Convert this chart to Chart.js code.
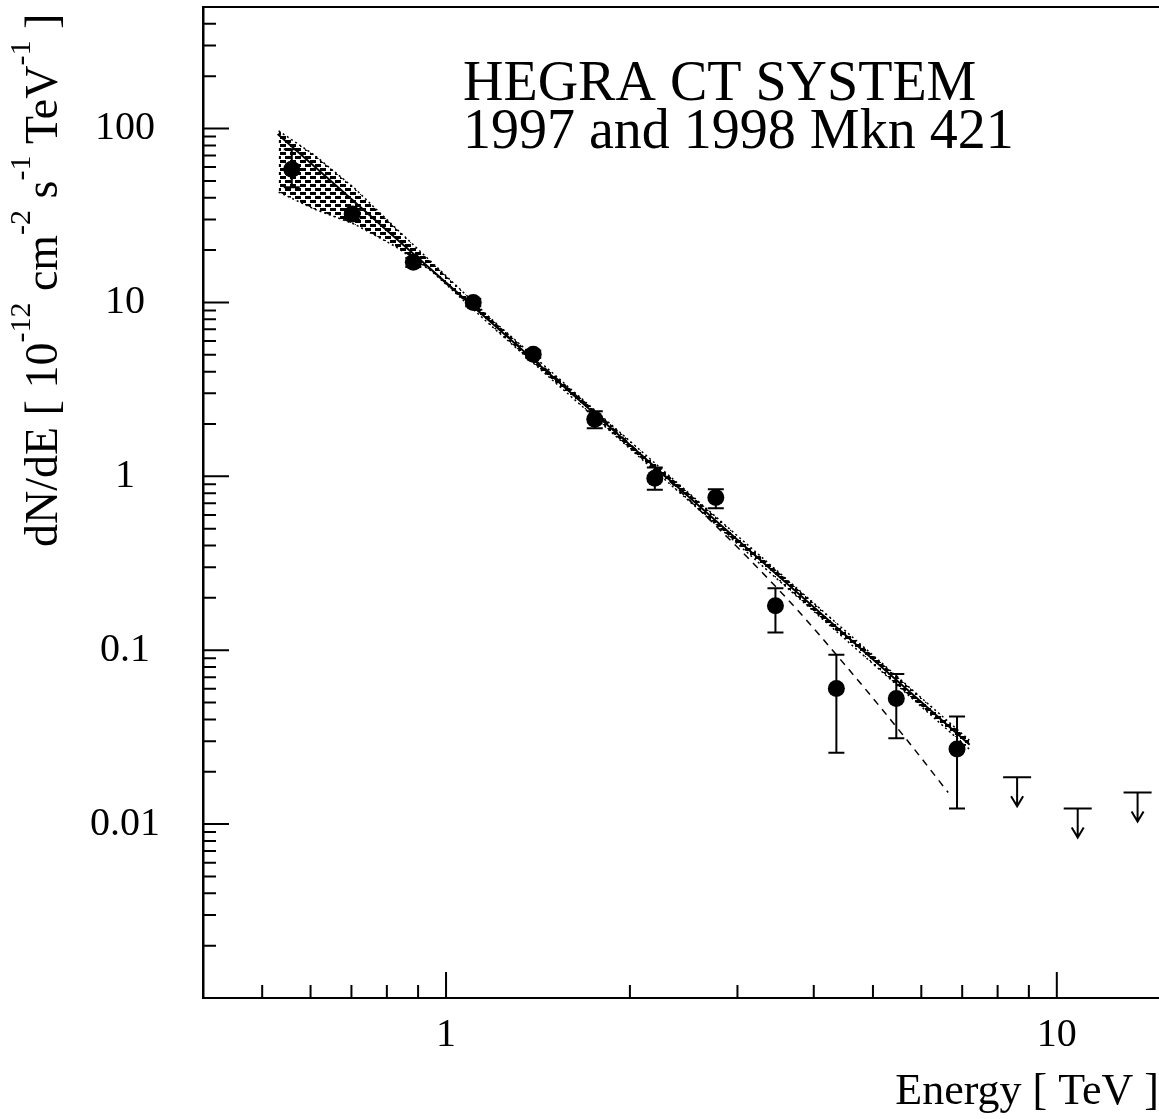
<!DOCTYPE html>
<html>
<head>
<meta charset="utf-8">
<script src="https://cdn.jsdelivr.net/npm/chart.js@4.4.1/dist/chart.umd.min.js"></script>
<style>
  html, body { margin: 0; padding: 0; background: #fff; overflow: hidden; }
  #myChart { display: block; }
</style>
</head>
<body>
<canvas id="myChart" width="1159" height="1119"></canvas>
<script>
// measured points : energy [TeV], flux [1e-12 cm-2 s-1 TeV-1]
const energy   = [0.559, 0.702, 0.884, 1.108, 1.389, 1.752, 2.197, 2.765, 3.462, 4.356, 5.46, 6.865];
const flux     = [58.4, 32.2, 17.0, 10.0, 5.04, 2.13, 0.976, 0.756, 0.180, 0.0603, 0.0528, 0.0270];
const fluxLow  = [46.0, 30.0, 16.0, 9.5, 4.8, 1.89, 0.836, 0.656, 0.1266, 0.0257, 0.0312, 0.0123];
const fluxHigh = [76.1, 34.5, 18.0, 10.5, 5.3, 2.37, 1.125, 0.844, 0.2275, 0.0941, 0.0731, 0.0416];

// upper limits
const limitEnergy = [8.61, 10.82, 13.56];
const limitFlux   = [0.0186, 0.0123, 0.0152];

// power law fit (solid line)
const fitEnergy = [0.53, 7.2];
const fitFlux   = [93, 0.0286];

// fit with cut-off (dashed line)
const cutEnergy = [1.0, 2.01, 3.56, 4.61, 5.67, 6.64];
const cutFlux   = [13.0, 1.51, 0.210, 0.0745, 0.0308, 0.0152];

// error band of the fit
const bandEnergy = [0.532, 0.609, 0.708, 0.824, 0.947, 1.187, 7.19];
const bandHigh   = [97.0, 70.3, 45.4, 27.1, 17.05, 8.01, 0.0304];
const bandLow    = [43.1, 34.4, 28.2, 21.1, 15.13, 7.31, 0.0270];

// tick labels
const xTicks = [1, 10];
const yTicks = [0.01, 0.1, 1, 10, 100];

const serif = 'Liberation Serif';
const pts = (xs, ys) => xs.map((v, i) => ({x: v, y: ys[i]}));

var ctx = document.getElementById('myChart').getContext('2d');

// dotted hatch used for the band
var tile = document.createElement('canvas');
tile.width = 10; tile.height = 8;
var tg = tile.getContext('2d');
tg.fillStyle = '#000';
tg.fillRect(0, 0, 6, 3);
tg.fillRect(5, 4, 6, 3);
tg.fillRect(-5, 4, 6, 3);
var hatch = ctx.createPattern(tile, 'repeat');

const errorBars = {
    id: 'errorBars',
    beforeDatasetsDraw(chart) {
        const {ctx, scales: {x, y}} = chart;
        ctx.save();
        ctx.strokeStyle = '#000';
        ctx.lineWidth = 2;
        ctx.beginPath();
        energy.forEach((e, i) => {
            const px = x.getPixelForValue(e);
            const top = y.getPixelForValue(fluxHigh[i]);
            const bot = y.getPixelForValue(fluxLow[i]);
            ctx.moveTo(px, top); ctx.lineTo(px, bot);
            ctx.moveTo(px - 8, top); ctx.lineTo(px + 8, top);
            ctx.moveTo(px - 8, bot); ctx.lineTo(px + 8, bot);
        });
        // upper limits with arrows
        limitEnergy.forEach((e, i) => {
            const px = x.getPixelForValue(e);
            const top = y.getPixelForValue(limitFlux[i]);
            ctx.moveTo(px - 14, top); ctx.lineTo(px + 14, top);
            ctx.moveTo(px, top); ctx.lineTo(px, top + 29);
            ctx.moveTo(px - 6, top + 19); ctx.lineTo(px, top + 29); ctx.lineTo(px + 6, top + 19);
        });
        ctx.stroke();
        ctx.restore();
    }
};

const frame = {
    id: 'frame',
    afterDraw(chart) {
        const {ctx, chartArea: a, scales: {x, y}} = chart;
        ctx.save();
        ctx.strokeStyle = '#000';
        ctx.lineWidth = 2;
        ctx.beginPath();
        // top line
        ctx.moveTo(a.left, a.top); ctx.lineTo(a.right, a.top);
        // inward ticks, y
        [0.001, 0.01, 0.1, 1, 10, 100].forEach(d => {
            for (let m = 1; m <= 9; m++) {
                const v = m * d;
                if (v > y.max * 1.0001) break;
                const py = y.getPixelForValue(v);
                ctx.moveTo(a.left, py); ctx.lineTo(a.left + (m === 1 ? 26 : 13), py);
            }
        });
        // inward ticks, x
        [0.1, 1, 10].forEach(d => {
            for (let m = 1; m <= 9; m++) {
                const v = m * d;
                if (v < x.min * 0.9999 || v > x.max) continue;
                const px = x.getPixelForValue(v);
                ctx.moveTo(px, a.bottom); ctx.lineTo(px, a.bottom - (m === 1 ? 26 : 13));
            }
        });
        ctx.stroke();

        ctx.fillStyle = '#000';
        // plot title
        ctx.font = '56px "' + serif + '"';
        ctx.textAlign = 'left';
        ctx.textBaseline = 'alphabetic';
        ctx.fillText('HEGRA CT SYSTEM', 463, 100);
        ctx.fillText('1997 and 1998 Mkn 421', 463, 148);

        // y axis title with superscripts
        const parts = [['dN/dE [ 10', 0], ['-12', 1], [' cm', 0], ['-2', 1], [' s', 0], ['-1', 1], [' TeV', 0], ['-1', 1], [' ]', 0]];
        ctx.translate(57, 547);
        ctx.rotate(-Math.PI / 2);
        let cx = 0;
        parts.forEach(([t, sup]) => {
            ctx.font = (sup ? '30px "' : '46px "') + serif + '"';
            ctx.fillText(t, cx, sup ? -27 : 0);
            cx += ctx.measureText(t).width;
        });
        ctx.restore();
    }
};

var chart = new Chart(ctx, {
    type: 'line',
    data: {
        datasets: [
            {
                label: 'data',
                data: pts(energy, flux),
                showLine: false,
                pointRadius: 8.5,
                pointBackgroundColor: '#000',
                pointBorderColor: '#000',
                pointBorderWidth: 0,
                order: 0
            },
            {
                label: 'power law',
                data: pts(fitEnergy, fitFlux),
                borderColor: '#000',
                borderWidth: 2,
                pointRadius: 0,
                order: 1
            },
            {
                label: 'cut-off',
                data: pts(cutEnergy, cutFlux),
                borderColor: '#000',
                borderWidth: 1.5,
                borderDash: [7, 6],
                cubicInterpolationMode: 'monotone',
                pointRadius: 0,
                order: 2
            },
            {
                label: 'band high',
                data: pts(bandEnergy, bandHigh),
                borderColor: '#000',
                borderWidth: 1.5,
                borderDash: [2, 3],
                backgroundColor: hatch,
                fill: '+1',
                pointRadius: 0,
                order: 3
            },
            {
                label: 'band low',
                data: pts(bandEnergy, bandLow),
                borderColor: '#000',
                borderWidth: 1.5,
                borderDash: [2, 3],
                pointRadius: 0,
                order: 4
            }
        ]
    },
    options: {
        responsive: false,
        animation: false,
        devicePixelRatio: 1,
        layout: { autoPadding: false, padding: { top: 7, right: 0, bottom: 0, left: 0 } },
        plugins: {
            legend: { display: false },
            tooltip: { enabled: false }
        },
        scales: {
            x: {
                type: 'logarithmic',
                min: 0.4,
                max: 14.7,
                grid: { display: false, drawTicks: false },
                border: { color: '#000', width: 2 },
                afterBuildTicks: s => { s.ticks = xTicks.map(v => ({ value: v })); },
                ticks: {
                    autoSkip: false,
                    maxRotation: 0,
                    padding: 13,
                    color: '#000',
                    font: { family: serif, size: 40 },
                    callback: v => String(v)
                },
                title: {
                    display: true,
                    text: 'Energy [ TeV ]',
                    align: 'end',
                    color: '#000',
                    padding: 0,
                    font: { family: serif, size: 44 }
                },
                afterFit: s => { s.height = 121; s.paddingLeft = 0; s.paddingRight = 0; }
            },
            y: {
                type: 'logarithmic',
                min: 0.001,
                max: 500,
                grid: { display: false, drawTicks: false },
                border: { color: '#000', width: 2.5 },
                afterBuildTicks: s => { s.ticks = yTicks.map(v => ({ value: v })); },
                ticks: {
                    autoSkip: false,
                    crossAlign: 'center',
                    padding: 43,
                    color: '#000',
                    font: { family: serif, size: 40 },
                    callback: v => String(v)
                },
                afterFit: s => { s.width = 203; s.paddingTop = 0; s.paddingBottom = 0; }
            }
        }
    },
    plugins: [errorBars, frame]
});
</script>
</body>
</html>
